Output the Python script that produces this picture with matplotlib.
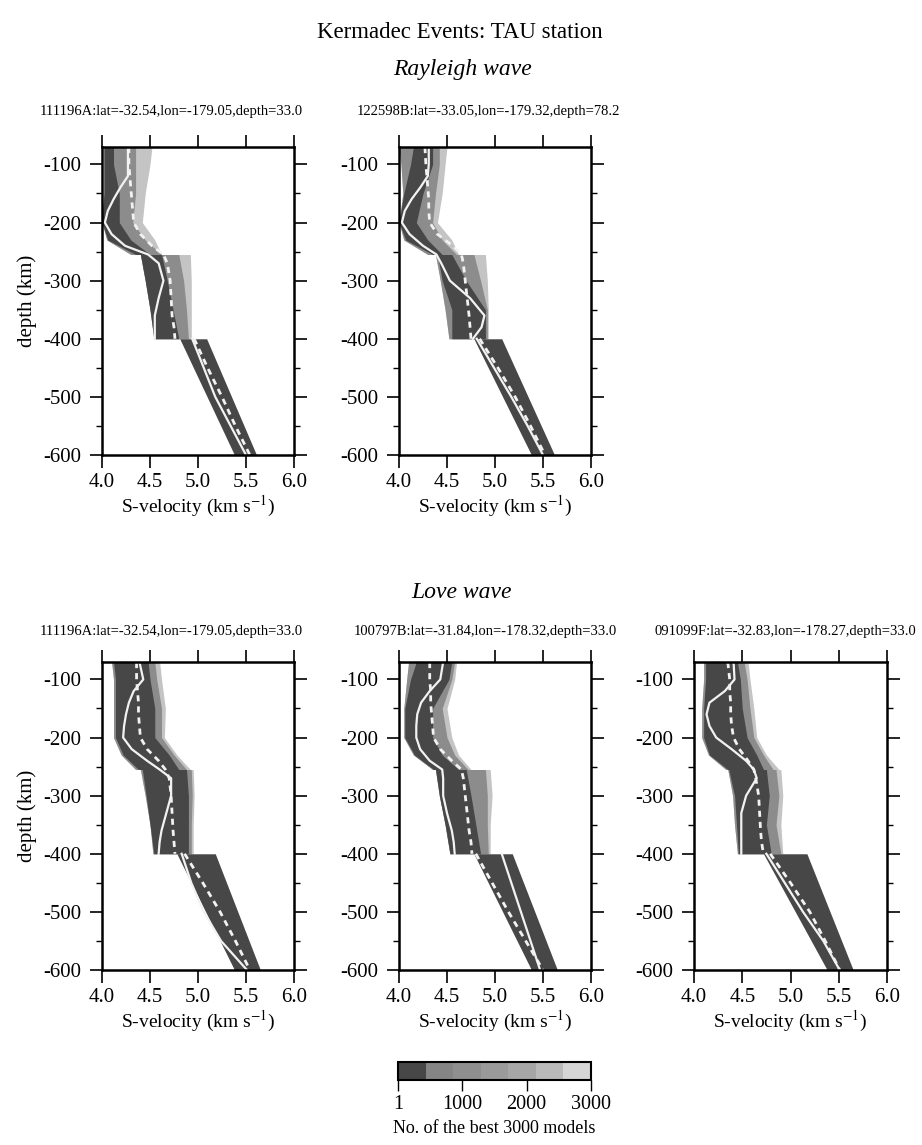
import matplotlib
matplotlib.use('Agg')
import matplotlib.pyplot as plt
from matplotlib.colors import ListedColormap, BoundaryNorm
from matplotlib.ticker import MultipleLocator, FixedLocator
import matplotlib.colorbar as mcolorbar

plt.rcParams['font.family'] = ['Liberation Serif', 'DejaVu Serif']
plt.rcParams['mathtext.fontset'] = 'stix'

# ---------------- data ----------------
LINE_DEPTH = [-70, -100, -120, -140, -160, -180, -200, -220, -240, -255,
              -270, -300, -330, -360, -380, -400]
LOW_DEPTH = [-400, -450, -500, -550, -600]
ENV_DEPTH = [-70, -100, -150, -200, -230, -255, -255, -300, -350, -400]
LOW_ENV_DEPTH = [-400, -600]

# Rayleigh 111196A
R1_best = [4.27, 4.27, 4.27, 4.19, 4.12, 4.06, 4.03, 4.10, 4.24, 4.48, 4.59, 4.64, 4.59, 4.55, 4.55, 4.55]
R1_mean = [4.28, 4.28, 4.29, 4.30, 4.31, 4.32, 4.33, 4.40, 4.52, 4.64, 4.68, 4.71, 4.72, 4.73, 4.75, 4.76]
R1_low_best = [4.94, 5.06, 5.18, 5.34, 5.50]
R1_low_mean = [4.96, 5.10, 5.25, 5.39, 5.54]
R1_env_lo = [4.02, 4.02, 4.02, 4.00, 4.05, 4.30, 4.40, 4.45, 4.50, 4.54]
R1_core_lo = [4.02, 4.02, 4.02, 4.00, 4.06, 4.35, 4.40, 4.45, 4.50, 4.54]
R1_core_hi = [4.12, 4.12, 4.18, 4.18, 4.30, 4.50, 4.62, 4.68, 4.74, 4.80]
R1_mid_hi = [4.35, 4.35, 4.35, 4.32, 4.45, 4.62, 4.80, 4.85, 4.88, 4.90]
R1_env_hi = [4.52, 4.50, 4.45, 4.42, 4.55, 4.62, 4.92, 4.93, 4.93, 4.93]
R1_low_lo = [4.81, 5.38]
R1_low_hi = [5.09, 5.61]

# Rayleigh 122598B
R2_best = [4.31, 4.31, 4.30, 4.22, 4.13, 4.06, 4.03, 4.11, 4.25, 4.39, 4.44, 4.53, 4.74, 4.89, 4.86, 4.77]
R2_mean = [4.27, 4.28, 4.29, 4.30, 4.31, 4.31, 4.32, 4.40, 4.56, 4.65, 4.67, 4.69, 4.71, 4.73, 4.74, 4.75]
R2_low_best = [4.81, 4.99, 5.17, 5.34, 5.50]
R2_low_mean = [4.84, 5.03, 5.21, 5.37, 5.52]
R2_env_lo = [4.00, 4.02, 4.04, 4.00, 4.05, 4.30, 4.38, 4.43, 4.48, 4.52]
R2_core_lo = [4.15, 4.12, 4.05, 4.00, 4.07, 4.35, 4.40, 4.45, 4.55, 4.55]
R2_core_hi = [4.35, 4.35, 4.25, 4.18, 4.30, 4.45, 4.55, 4.70, 4.90, 4.90]
R2_mid_hi = [4.42, 4.42, 4.38, 4.35, 4.45, 4.60, 4.78, 4.85, 4.92, 4.92]
R2_env_hi = [4.50, 4.48, 4.45, 4.40, 4.55, 4.62, 4.90, 4.92, 4.93, 4.93]
R2_low_lo = [4.78, 5.38]
R2_low_hi = [5.07, 5.62]

# Love 111196A
L1_best = [4.39, 4.43, 4.33, 4.28, 4.25, 4.23, 4.22, 4.31, 4.47, 4.60, 4.72, 4.72, 4.67, 4.62, 4.60, 4.59]
L1_mean = [4.36, 4.36, 4.37, 4.38, 4.38, 4.39, 4.40, 4.47, 4.59, 4.66, 4.70, 4.72, 4.73, 4.74, 4.75, 4.76]
L1_low_best = [4.83, 4.93, 5.06, 5.24, 5.51]
L1_low_mean = [4.86, 5.05, 5.23, 5.39, 5.54]
L1_env_lo = [4.10, 4.12, 4.12, 4.12, 4.20, 4.35, 4.40, 4.45, 4.50, 4.53]
L1_core_lo = [4.12, 4.14, 4.14, 4.14, 4.22, 4.38, 4.42, 4.46, 4.50, 4.54]
L1_core_hi = [4.48, 4.50, 4.55, 4.55, 4.70, 4.80, 4.88, 4.90, 4.90, 4.90]
L1_mid_hi = [4.55, 4.57, 4.62, 4.62, 4.75, 4.88, 4.93, 4.94, 4.93, 4.93]
L1_env_hi = [4.60, 4.62, 4.66, 4.65, 4.78, 4.92, 4.95, 4.96, 4.95, 4.95]
L1_low_lo = [4.78, 5.38]
L1_low_hi = [5.18, 5.65]

# Love 100797B
L2_best = [4.46, 4.43, 4.32, 4.23, 4.19, 4.18, 4.18, 4.22, 4.32, 4.45, 4.46, 4.46, 4.50, 4.55, 4.57, 4.58]
L2_mean = [4.32, 4.32, 4.33, 4.33, 4.34, 4.35, 4.36, 4.43, 4.55, 4.65, 4.67, 4.69, 4.71, 4.73, 4.75, 4.76]
L2_low_best = [5.07, 5.17, 5.27, 5.37, 5.47]
L2_low_mean = [4.80, 4.97, 5.14, 5.32, 5.50]
L2_env_lo = [4.10, 4.08, 4.05, 4.05, 4.15, 4.35, 4.38, 4.42, 4.48, 4.53]
L2_core_lo = [4.18, 4.12, 4.06, 4.06, 4.16, 4.36, 4.38, 4.42, 4.48, 4.53]
L2_core_hi = [4.55, 4.52, 4.35, 4.35, 4.45, 4.62, 4.70, 4.75, 4.80, 4.85]
L2_mid_hi = [4.58, 4.55, 4.45, 4.50, 4.58, 4.72, 4.90, 4.92, 4.92, 4.93]
L2_env_hi = [4.60, 4.58, 4.50, 4.55, 4.62, 4.75, 4.95, 4.97, 4.95, 4.95]
L2_low_lo = [4.78, 5.38]
L2_low_hi = [5.18, 5.65]

# Love 091099F
L3_best = [4.41, 4.42, 4.32, 4.16, 4.13, 4.16, 4.23, 4.39, 4.54, 4.62, 4.65, 4.54, 4.49, 4.49, 4.49, 4.49]
L3_mean = [4.35, 4.37, 4.37, 4.38, 4.38, 4.39, 4.41, 4.47, 4.56, 4.62, 4.64, 4.67, 4.68, 4.69, 4.70, 4.72]
L3_low_best = [4.75, 4.94, 5.13, 5.34, 5.51]
L3_low_mean = [4.79, 5.00, 5.20, 5.36, 5.51]
L3_env_lo = [4.10, 4.10, 4.08, 4.08, 4.15, 4.33, 4.35, 4.40, 4.42, 4.45]
L3_core_lo = [4.12, 4.12, 4.10, 4.10, 4.16, 4.35, 4.36, 4.42, 4.44, 4.46]
L3_core_hi = [4.45, 4.48, 4.50, 4.55, 4.65, 4.72, 4.75, 4.78, 4.75, 4.80]
L3_mid_hi = [4.52, 4.55, 4.58, 4.62, 4.72, 4.82, 4.85, 4.88, 4.85, 4.90]
L3_env_hi = [4.56, 4.58, 4.62, 4.65, 4.75, 4.88, 4.90, 4.92, 4.90, 4.92]
L3_low_lo = [4.72, 5.38]
L3_low_hi = [5.17, 5.65]

EVENT_LABELS = ["111196A:lat=-32.54,lon=-179.05,depth=33.0",
                "122598B:lat=-33.05,lon=-179.32,depth=78.2",
                "111196A:lat=-32.54,lon=-179.05,depth=33.0",
                "100797B:lat=-31.84,lon=-178.32,depth=33.0",
                "091099F:lat=-32.83,lon=-178.27,depth=33.0"]
X_TICKS = [4.0, 4.5, 5.0, 5.5, 6.0]
Y_TICKS = [-100, -200, -300, -400, -500, -600]
CBAR_COLORS = ['#474747', '#858585', '#8f8f8f', '#9a9a9a', '#a6a6a6', '#bababa', '#d6d6d6']
CBAR_TICKS = [1, 1000, 2000, 3000]

DARK, MID, LIGHT = '#474747', '#8c8c8c', '#c4c4c4'

# ---------------- figure ----------------
W, H = 922, 1145
fig = plt.figure(figsize=(W / 100, H / 100), dpi=100)


def fbox(x0, y0, x1, y1):
    return [x0 / W, 1 - y1 / H, (x1 - x0) / W, (y1 - y0) / H]


panels = [
    (fbox(102, 147, 294, 455), R1_best, R1_mean, R1_low_best, R1_low_mean, R1_env_lo, R1_core_lo,
     R1_core_hi, R1_mid_hi, R1_env_hi, R1_low_lo, R1_low_hi, True),
    (fbox(399, 147, 591, 455), R2_best, R2_mean, R2_low_best, R2_low_mean, R2_env_lo, R2_core_lo,
     R2_core_hi, R2_mid_hi, R2_env_hi, R2_low_lo, R2_low_hi, False),
    (fbox(102, 662, 294, 970), L1_best, L1_mean, L1_low_best, L1_low_mean, L1_env_lo, L1_core_lo,
     L1_core_hi, L1_mid_hi, L1_env_hi, L1_low_lo, L1_low_hi, True),
    (fbox(399, 662, 591, 970), L2_best, L2_mean, L2_low_best, L2_low_mean, L2_env_lo, L2_core_lo,
     L2_core_hi, L2_mid_hi, L2_env_hi, L2_low_lo, L2_low_hi, False),
    (fbox(694, 662, 887, 970), L3_best, L3_mean, L3_low_best, L3_low_mean, L3_env_lo, L3_core_lo,
     L3_core_hi, L3_mid_hi, L3_env_hi, L3_low_lo, L3_low_hi, False),
]

for (pos, best, mean, lbest, lmean, elo, clo, chi, mhi, ehi, llo, lhi, ylab) in panels:
    ax = fig.add_axes(pos)
    ax.fill_betweenx(ENV_DEPTH, elo, ehi, color=LIGHT, lw=0)
    ax.fill_betweenx(ENV_DEPTH, elo, mhi, color=MID, lw=0)
    ax.fill_betweenx(ENV_DEPTH, clo, chi, color=DARK, lw=0)
    ax.fill_betweenx(LOW_ENV_DEPTH, llo, lhi, color=DARK, lw=0)
    ax.plot(best, LINE_DEPTH, color='#f2f2f2', lw=1.6)
    ax.plot(lbest, LOW_DEPTH, color='#f2f2f2', lw=1.6)
    ax.plot(mean, LINE_DEPTH, color='#f2f2f2', lw=2.0, ls=(0, (2.2, 1.8)))
    ax.plot(lmean, LOW_DEPTH, color='#f2f2f2', lw=2.0, ls=(0, (2.2, 1.8)))
    ax.set_xlim(4.0, 6.0)
    ax.set_ylim(-600, -70)
    ax.xaxis.set_major_locator(FixedLocator(X_TICKS))
    ax.set_xticklabels([f"{v:.1f}" for v in X_TICKS])
    ax.yaxis.set_major_locator(FixedLocator(Y_TICKS))
    ax.set_yticklabels([str(v) for v in Y_TICKS])
    ax.yaxis.set_minor_locator(MultipleLocator(50))
    ax.tick_params(which='major', direction='out', length=9, width=1.2, top=True, right=True,
                   labelsize=15, pad=4)
    ax.tick_params(axis='y', which='major', pad=6)
    ax.tick_params(which='minor', direction='out', length=4.5, width=1.0, right=True, left=True)
    for s in ax.spines.values():
        s.set_linewidth(1.8)
    ax.set_xlabel("S-velocity (km s$^{-1}$)", fontsize=14, labelpad=1)
    if ylab:
        ax.set_ylabel("depth (km)", fontsize=15, labelpad=4)

# titles
fig.text(460 / W, 1 - 33 / H, "Kermadec Events: TAU station", ha='center', va='center', fontsize=16.5)
fig.text(462 / W, 1 - 70 / H, "Rayleigh wave", ha='center', va='center', fontsize=17, style='italic')
fig.text(462 / W, 1 - 593 / H, "Love wave", ha='center', va='center', fontsize=17, style='italic')

label_pos = [(171, 112), (488, 112), (171, 632), (485, 632), (785, 632)]
for (x, y), lab in zip(label_pos, EVENT_LABELS):
    fig.text(x / W, 1 - y / H, lab, ha='center', va='center', fontsize=10.5)

# colorbar
cax = fig.add_axes(fbox(398, 1062, 591, 1080))
cmap = ListedColormap(CBAR_COLORS)
bounds = [1 + i * (3000 - 1) / 7 for i in range(8)]
norm = BoundaryNorm(bounds, cmap.N)
cb = mcolorbar.ColorbarBase(cax, cmap=cmap, norm=norm, orientation='horizontal',
                            boundaries=bounds, ticks=CBAR_TICKS, spacing='proportional')
cb.ax.minorticks_off()
cb.ax.set_xticklabels([str(t) for t in CBAR_TICKS])
cb.ax.tick_params(which='major', labelsize=14.5, length=8, width=1.0, direction='out', pad=3)
cb.ax.tick_params(which='minor', length=0)
cb.outline.set_linewidth(1.5)
cb.set_label("No. of the best 3000 models", fontsize=13, labelpad=4)

fig.savefig("out.png", dpi=100)
